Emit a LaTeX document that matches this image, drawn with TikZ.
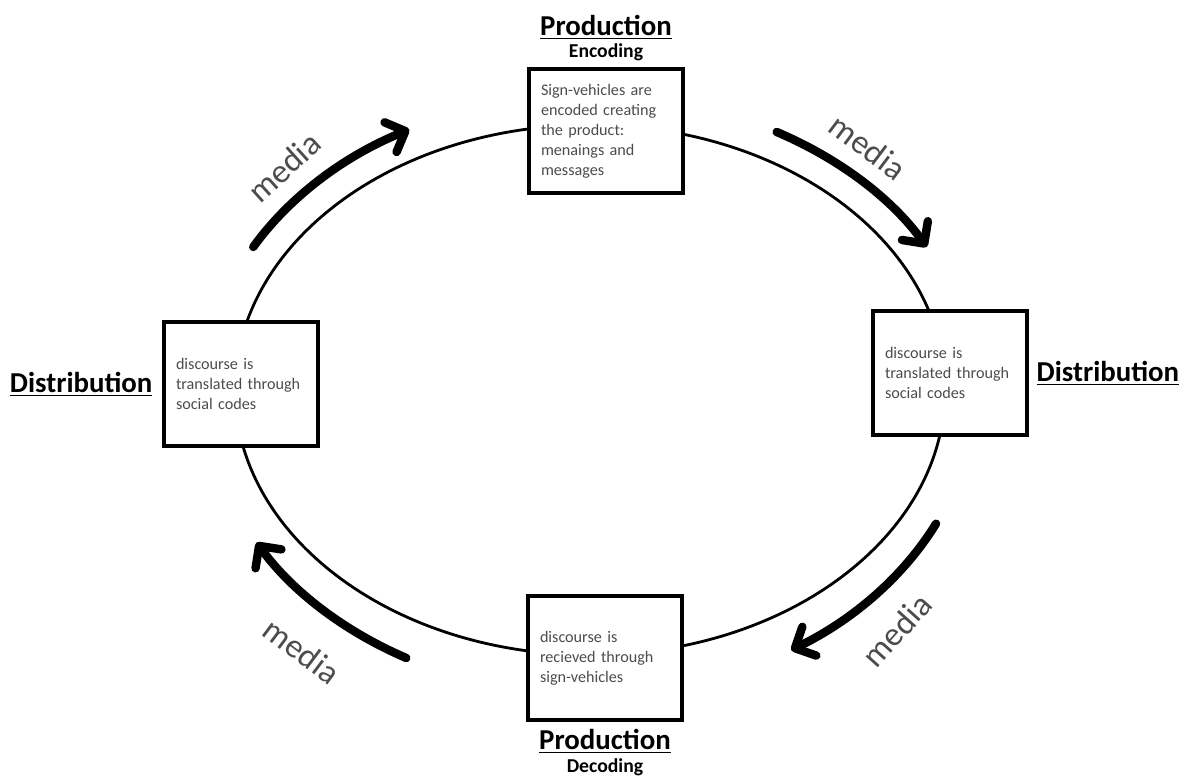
\documentclass[tikz,border=0pt]{standalone}
\usepackage{fontspec}
\setmainfont{Carlito}
\usetikzlibrary{arrows.meta,positioning}

\begin{document}
\begin{tikzpicture}[>={Straight Barb[round,length=4mm,width=8mm]},
	stage/.style={draw,line width=2.8pt,fill=white,minimum width=3.85cm,minimum height=3.1cm,
		text width=3.25cm,align=left,text=black!70,font=\fontsize{11.5}{14.2}\selectfont},
	title/.style={inner sep=1pt,font=\bfseries\fontsize{20.5}{22}\selectfont},
	subtitle/.style={inner sep=1pt,font=\bfseries\fontsize{14}{16}\selectfont},
	media/.style={->,line width=6pt,line cap=round},
	medialabel/.style={text=black!70,font=\fontsize{24}{26}\selectfont}]
	\useasboundingbox (0,0) rectangle (29.55,19.525);
	\coordinate (c) at (14.75,9.775);

	\draw[line width=2pt] (c) ellipse [x radius=8.875,y radius=6.625];

	\node[stage] (enc) at (15.15,16.25) {Sign-vehicles are\\encoded creating\\the product:\\menaings and\\messages};
	\node[stage] (distL) at (6.025,9.925) {discourse is\\translated through\\social codes};
	\node[stage] (distR) at (23.75,10.2) {discourse is\\translated through\\social codes};
	\node[stage] (dec) at (15.125,3.075) {discourse is\\recieved through\\sign-vehicles};

	\node[subtitle] (encT) [above=.1cm of enc] {Encoding};
	\node[title] (prodT) [above=.05cm of encT] {\underline{Production}};
	\node[title] (distLT) [left=.2cm of distL] {\underline{Distribution}};
	\node[title] (distRT) [right=.15cm of distR] {\underline{Distribution}};
	\node[title] (prodB) [below=.15cm of dec] {\underline{Production}};
	\node[subtitle] (decT) [below=.05cm of prodB] {Decoding};

	% media arrows round the cycle
	\draw[media] ([shift={(151:9.625 and 7.375)}]c) arc [start angle=151,end angle=118,x radius=9.625,y radius=7.375];
	\draw[media] ([shift={(61:9.625 and 7.375)}]c) arc [start angle=61,end angle=29,x radius=9.625,y radius=7.375];
	\draw[media] ([shift={(-26:9.625 and 7.625)}]c) arc [start angle=-26,end angle=-58.5,x radius=9.625,y radius=7.625];
	\draw[media] ([shift={(-118.5:9.625 and 7.625)}]c) arc [start angle=-118.5,end angle=-150,x radius=9.625,y radius=7.625];

	\node[medialabel,rotate=42] (m1) at (7.1,15.35) {media};
	\node[medialabel,rotate=-37] (m2) at (21.7,15.85) {media};
	\node[medialabel,rotate=48] (m3) at (22.42,3.77) {media};
	\node[medialabel,rotate=-37] (m4) at (7.55,3.25) {media};
\end{tikzpicture}
\end{document}
